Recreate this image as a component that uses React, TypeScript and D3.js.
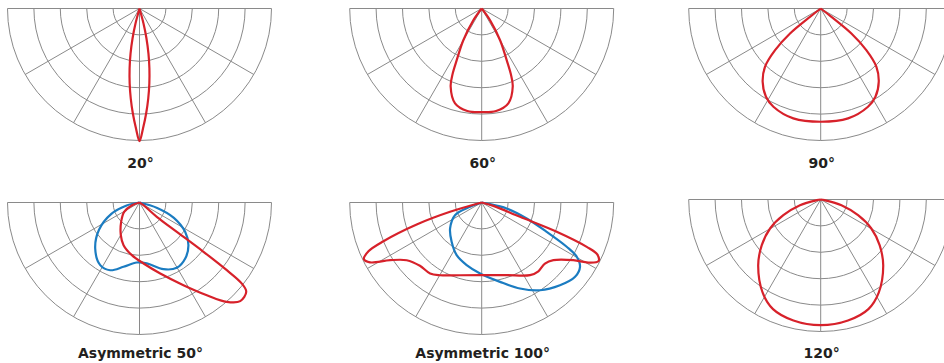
import React from "react";
import * as d3 from "d3";

// ---------- data ----------
const ringValues = [20, 40, 60, 80, 100];
const spokeAngles = [-90, -60, -30, 0, 30, 60, 90];
const panelLabels = ["20°", "60°", "90°", "Asymmetric 50°", "Asymmetric 100°", "120°"];

// angles in degrees (0 = straight down, + = right), values in % of outer ring
const beam20Angles = [-15.6, -14.9, -13.1, -11.25, -9.37, -7.47, -5.55, -3.62, -1.67, 0, 1.67, 3.62, 5.55, 7.47, 9.37, 11.25, 13.1, 14.9, 15.6];
const beam20Values = [0, 11.8, 23.3, 34.8, 46.1, 57.3, 68.5, 79.7, 90.9, 100.5, 90.9, 79.7, 68.5, 57.3, 46.1, 34.8, 23.3, 11.8, 0];

const beam60Angles = [-37, -35.4, -30, -25.8, -24, -21.7, -15.7, -8, 0, 8, 15.7, 21.7, 24, 25.8, 30, 35.4, 37];
const beam60Values = [0, 11, 28, 43.5, 54, 63.6, 74.6, 78.4, 78.5, 78.4, 74.6, 63.6, 54, 43.5, 28, 11, 0];

const beam90Angles = [-53, -52, -50.8, -47.6, -43.7, -38.4, -31.8, -25.7, -14, 0, 14, 25.7, 31.8, 38.4, 43.7, 47.6, 50.8, 52, 53];
const beam90Values = [0, 10, 30, 46.8, 61.1, 70.8, 78.7, 82.6, 85.8, 85.8, 85.8, 82.6, 78.7, 70.8, 61.1, 46.8, 30, 10, 0];

const beam120Angles = [-82, -80, -74.6, -67.2, -60.2, -52.2, -43.5, -31.8, -23.5, -12.7, 0, 12.7, 23.5, 31.8, 43.5, 52.2, 60.2, 67.2, 74.6, 80, 82];
const beam120Values = [0, 3, 16.3, 30.7, 44.2, 56.5, 68.8, 83.3, 90.6, 94, 95.2, 94, 90.6, 83.3, 68.8, 56.5, 44.2, 30.7, 16.3, 3, 0];

const asym50BlueAngles = [-82, -77, -68, -56, -43.9, -32.1, -23.4, -14, -2.6, 6.8, 19.8, 29.7, 39.2, 48.9, 57.3, 66, 73, 80];
const asym50BlueValues = [0, 10, 23, 37, 48.4, 56, 55.9, 50.2, 45.5, 46.5, 53.7, 57, 54.8, 49.2, 41.1, 28.5, 14, 0];

const asym50RedAngles = [-76, -70, -58.7, -43.5, -29.8, -20.5, -8.3, 3.8, 16.3, 28, 36, 41.3, 45.6, 50.1, 51.6, 52.2, 52.4, 51.8, 50.4, 56, 60];
const asym50RedValues = [0, 6, 13.6, 20.2, 28.5, 34.5, 40.3, 46.3, 56, 70.9, 86.8, 100.2, 106.8, 105.4, 98.9, 83.7, 61.2, 36, 17, 3.6, 0];

const asym100BlueAngles = [-74, -69.6, -64.6, -50.6, -37.4, -25.4, -13.5, -1.3, 13, 24, 33.6, 43.4, 51.5, 56.8, 60.3, 62.5, 65.7, 70.4, 76.5, 79, 80];
const asym100BlueValues = [0, 9.4, 22.4, 31, 37.5, 44.2, 48.8, 53.8, 61.7, 71.3, 79.8, 86.3, 90.4, 89, 82.9, 72.6, 54, 36.2, 19.5, 4, 0];

const asym100RedAngles = [-76, -73.6, -71.3, -68.5, -66.7, -64.3, -61.8, -57.8, -52.4, -44.3, -36, -29.8, -16.6, 0, 19, 33.6, 39.5, 46, 51.2, 57.8, 60.6, 63.3, 65.8, 67.1, 68.7, 69.5, 74, 78];
const asym100RedValues = [0, 25, 52, 80, 93.4, 99, 96, 82, 71.7, 67, 66.5, 63.5, 57.5, 55, 58.2, 66.1, 67.5, 66.6, 69.7, 82, 92.7, 99, 96, 86.4, 61, 31, 9.2, 0];

// ---------- layout ----------
const W = 944;
const H = 363;
const R = 132;
const RED = "#d7212a";
const BLUE = "#1b7cc1";

type Series = { angles: number[]; values: number[]; color: string };
const panels: { cx: number; cy: number; labelY: number; series: Series[] }[] = [
  { cx: 139.5, cy: 8.5, labelY: 168, series: [{ angles: beam20Angles, values: beam20Values, color: RED }] },
  { cx: 481.7, cy: 8.5, labelY: 168, series: [{ angles: beam60Angles, values: beam60Values, color: RED }] },
  { cx: 820.7, cy: 8.5, labelY: 168, series: [{ angles: beam90Angles, values: beam90Values, color: RED }] },
  {
    cx: 139.5, cy: 202.5, labelY: 358,
    series: [
      { angles: asym50BlueAngles, values: asym50BlueValues, color: BLUE },
      { angles: asym50RedAngles, values: asym50RedValues, color: RED },
    ],
  },
  {
    cx: 481.7, cy: 202.5, labelY: 358,
    series: [
      { angles: asym100BlueAngles, values: asym100BlueValues, color: BLUE },
      { angles: asym100RedAngles, values: asym100RedValues, color: RED },
    ],
  },
  { cx: 820.7, cy: 199.5, labelY: 358, series: [{ angles: beam120Angles, values: beam120Values, color: RED }] },
];

const angleScale = d3.scaleLinear().domain([-90, 90]).range([1.5 * Math.PI, 0.5 * Math.PI]);
const rScale = d3.scaleLinear().domain([0, 100]).range([0, R]);

function ringPath(v: number) {
  const r = rScale(v);
  const p = d3.path();
  p.moveTo(-r, 0);
  p.arc(0, 0, r, Math.PI, 0, true);
  return p.toString();
}

function spokePath(a: number) {
  const ang = angleScale(a);
  const x = rScale(100) * Math.sin(ang);
  const y = -rScale(100) * Math.cos(ang);
  return `M0,0L${x},${y}`;
}

const radial = d3
  .lineRadial<[number, number]>()
  .angle((d) => angleScale(d[0]))
  .radius((d) => rScale(d[1]))
  .curve(d3.curveCatmullRom.alpha(0.5));

export default function App() {
  return (
    <svg
      width={W}
      height={H}
      viewBox={`0 0 ${W} ${H}`}
      style={{ position: "absolute", left: 0, top: 0, background: "#fff" }}
    >
      <rect width={W} height={H} fill="#fff" />
      {panels.map((p, i) => (
        <g key={i}>
          <g transform={`translate(${p.cx},${p.cy})`}>
            {ringValues.map((v) => (
              <path key={"r" + v} d={ringPath(v)} fill="none" stroke="#8a8a8a" strokeWidth={1} />
            ))}
            {spokeAngles.map((a) => (
              <path key={"s" + a} d={spokePath(a)} fill="none" stroke="#8a8a8a" strokeWidth={1} />
            ))}
            {p.series.map((s, j) => (
              <path
                key={"c" + j}
                d={radial(s.angles.map((a, k) => [a, s.values[k]] as [number, number])) || ""}
                fill="none"
                stroke={s.color}
                strokeWidth={2.2}
                strokeLinejoin="round"
              />
            ))}
          </g>
          <text
            x={p.cx + 1}
            y={p.labelY}
            textAnchor="middle"
            fontFamily="'DejaVu Sans', sans-serif"
            fontWeight="bold"
            fontSize={14}
            fill="#231f20"
          >
            {panelLabels[i]}
          </text>
        </g>
      ))}
    </svg>
  );
}
